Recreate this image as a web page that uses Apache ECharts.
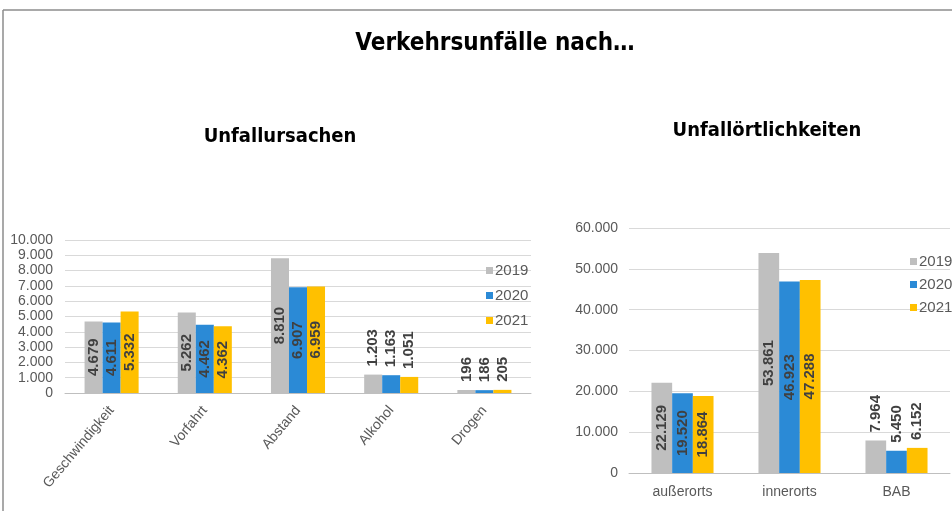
<!DOCTYPE html>
<html>
<head>
<meta charset="utf-8">
<script src="https://cdn.jsdelivr.net/npm/echarts@6/dist/echarts.min.js"></script>
<style>
  html, body { margin: 0; padding: 0; background: #fff; }
  #chart { width: 952px; height: 511px; }
</style>
</head>
<body>
<div id="chart"></div>
<script>
// Daten: Unfallursachen
var ursachen = ["Geschwindigkeit", "Vorfahrt", "Abstand", "Alkohol", "Drogen"];
var u2019 = [4679, 5262, 8810, 1203, 196];
var u2020 = [4611, 4462, 6907, 1163, 186];
var u2021 = [5332, 4362, 6959, 1051, 205];

// Daten: Unfallörtlichkeiten
var orte = ["außerorts", "innerorts", "BAB"];
var o2019 = [22129, 53861, 7964];
var o2020 = [19520, 46923, 5450];
var o2021 = [18864, 47288, 6152];

var jahre = ["2019", "2020", "2021"];
var farben = ["#bfbfbf", "#2b8ad6", "#ffc000"];

// kleine Balken bekommen das Label oben drauf
var grenzeLinks = 2000;
var grenzeRechts = 10000;

var schmal = "'DejaVu Sans Condensed', 'Liberation Sans Narrow', sans-serif";
var normal = "'Liberation Sans', Arial, sans-serif";

function punkt(v) {
  return String(v).replace(/\B(?=(\d{3})+(?!\d))/g, ".");
}

function daten(werte, grenze) {
  return werte.map(function (v) {
    if (v < grenze) {
      return {
        value: v,
        label: { position: "top", align: "left", verticalAlign: "middle", distance: 8 }
      };
    }
    return v;
  });
}

function serie(name, werte, idx, grenze, achse) {
  return {
    name: name,
    type: "bar",
    xAxisIndex: achse,
    yAxisIndex: achse,
    barGap: "0%",
    barCategoryGap: "42%",
    itemStyle: { color: farben[idx] },
    label: {
      show: true,
      position: "inside",
      rotate: 90,
      align: "center",
      verticalAlign: "middle",
      color: "#404040",
      fontFamily: normal,
      fontWeight: "bold",
      fontSize: 15,
      formatter: function (p) { return punkt(p.value); }
    },
    data: daten(werte, grenze)
  };
}

var achsenText = { color: "#595959", fontFamily: normal, fontSize: 14 };
var legText = { color: "#595959", fontFamily: normal, fontSize: 15, padding: [0, 0, 0, -3] };

var chart = echarts.init(document.getElementById("chart"));
var option = {
  animation: false,
  textStyle: { fontFamily: normal },
  title: [
    { text: "Verkehrsunfälle nach…", left: 490, top: 27, textAlign: "center",
      textStyle: { fontFamily: schmal, fontSize: 24, fontWeight: "bold", color: "#000" } },
    { text: "Unfallursachen", left: 275, top: 122, textAlign: "center",
      textStyle: { fontFamily: schmal, fontSize: 20, fontWeight: "bold", color: "#000" } },
    { text: "Unfallörtlichkeiten", left: 762, top: 116, textAlign: "center",
      textStyle: { fontFamily: schmal, fontSize: 20, fontWeight: "bold", color: "#000" } }
  ],
  legend: [
    { data: jahre, orient: "vertical", left: 481, top: 258, itemGap: 10,
      icon: "rect", itemWidth: 7, itemHeight: 7, textStyle: legText },
    { data: jahre, orient: "vertical", left: 905, top: 249, itemGap: 8,
      icon: "rect", itemWidth: 7, itemHeight: 7, textStyle: legText }
  ],
  grid: [
    { left: 65, right: 421, top: 240, bottom: 118 },
    { left: 629, right: 2, top: 228, bottom: 38 }
  ],
  xAxis: [
    { type: "category", gridIndex: 0, data: ursachen,
      axisLine: { lineStyle: { color: "#bfbfbf" } }, axisTick: { show: false },
      axisLabel: Object.assign({ rotate: 50, margin: 15, interval: 0 }, achsenText) },
    { type: "category", gridIndex: 1, data: orte,
      axisLine: { lineStyle: { color: "#bfbfbf" } }, axisTick: { show: false },
      axisLabel: Object.assign({ margin: 12, interval: 0 }, achsenText) }
  ],
  yAxis: [
    { type: "value", gridIndex: 0, min: 0, max: 10000, interval: 1000,
      axisLine: { show: false }, axisTick: { show: false },
      splitLine: { lineStyle: { color: "#d9d9d9" } },
      axisLabel: Object.assign({ margin: 12, formatter: punkt }, achsenText) },
    { type: "value", gridIndex: 1, min: 0, max: 60000, interval: 10000,
      axisLine: { show: false }, axisTick: { show: false },
      splitLine: { lineStyle: { color: "#d9d9d9" } },
      axisLabel: Object.assign({ margin: 11, formatter: punkt }, achsenText) }
  ],
  series: [
    serie("2019", u2019, 0, grenzeLinks, 0),
    serie("2020", u2020, 1, grenzeLinks, 0),
    serie("2021", u2021, 2, grenzeLinks, 0),
    serie("2019", o2019, 0, grenzeRechts, 1),
    serie("2020", o2020, 1, grenzeRechts, 1),
    serie("2021", o2021, 2, grenzeRechts, 1)
  ],
  graphic: [
    { type: "line", shape: { x1: 3, y1: 10, x2: 952, y2: 10 }, style: { stroke: "#8c8c8c", lineWidth: 1.5 } },
    { type: "line", shape: { x1: 3, y1: 10, x2: 3, y2: 511 }, style: { stroke: "#8c8c8c", lineWidth: 1.5 } }
  ]
};
chart.setOption(option);
</script>
</body>
</html>
